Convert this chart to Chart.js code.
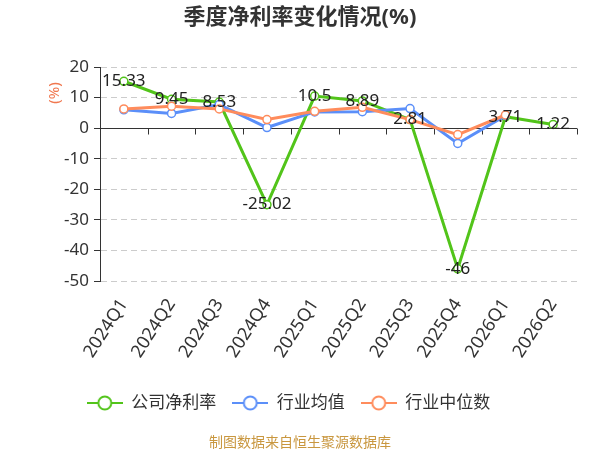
<!DOCTYPE html>
<html>
<head>
<meta charset="utf-8">
<script src="https://cdn.jsdelivr.net/npm/chart.js@4"></script>
<style>
	html, body { margin: 0; padding: 0; background: #fff; }
	#wrap { width: 600px; height: 450px; }
</style>
</head>
<body>
<div id="wrap"><canvas id="chart"></canvas></div>
<script>
// Quarterly net margin data (%)
const quarters = ["2024Q1", "2024Q2", "2024Q3", "2024Q4", "2025Q1", "2025Q2", "2025Q3", "2025Q4", "2026Q1", "2026Q2"];
const companyMargin = [15.33, 9.45, 8.53, -25.02, 10.5, 8.89, 2.81, -46, 3.71, 1.22];
const industryAvg = [6.0, 4.8, 7.7, 0.2, 5.3, 5.4, 6.4, -5.0, 4.1, null];
const industryMedian = [6.3, 7.2, 6.3, 2.8, 5.5, 6.8, 2.8, -2.1, 4.3, null];
const yTicks = { min: -50, max: 20, step: 10 };

const GREEN = "#52c41a";
const BLUE = "#5b8ff9";
const ORANGE = "#ff8c5c";
const FONT = '"Noto Sans", "Noto Sans CJK SC", sans-serif';

// legend symbol: short line with a hollow circle
function legendIcon(color) {
	const c = document.createElement("canvas");
	c.width = 36;
	c.height = 18;
	const g = c.getContext("2d");
	g.strokeStyle = color;
	g.lineWidth = 2;
	g.beginPath();
	g.moveTo(0, 9);
	g.lineTo(36, 9);
	g.stroke();
	g.beginPath();
	g.arc(18, 9, 6.5, 0, Math.PI * 2);
	g.fillStyle = "#fff";
	g.fill();
	g.stroke();
	return c;
}

// value labels on the company series
const valueLabels = {
	id: "valueLabels",
	afterDatasetsDraw(chart) {
		const ctx = chart.ctx;
		const meta = chart.getDatasetMeta(0);
		ctx.save();
		ctx.font = "17px " + FONT;
		ctx.fillStyle = "#222";
		ctx.textAlign = "center";
		ctx.textBaseline = "middle";
		meta.data.forEach((pt, i) => {
			const v = companyMargin[i];
			if (v === null) return;
			ctx.fillText(String(v), pt.x, pt.y);
		});
		ctx.restore();
	},
};

// zero axis line with category ticks, title, unit label and source note
const axisExtras = {
	id: "axisExtras",
	beforeDatasetsDraw(chart) {
		const { ctx, chartArea, scales } = chart;
		const y0 = Math.round(scales.y.getPixelForValue(0)) + 0.5;
		const step = scales.x.getPixelForValue(1) - scales.x.getPixelForValue(0);
		ctx.save();
		ctx.strokeStyle = "#333";
		ctx.lineWidth = 1;
		ctx.beginPath();
		ctx.moveTo(chartArea.left, y0);
		ctx.lineTo(chartArea.right, y0);
		for (let i = 0; i <= quarters.length; i++) {
			const x = Math.round(scales.x.getPixelForValue(i) - step / 2) + 0.5;
			ctx.moveTo(x, y0);
			ctx.lineTo(x, y0 + 6);
		}
		ctx.stroke();
		ctx.restore();
	},
	afterDraw(chart) {
		const ctx = chart.ctx;
		const cx = chart.width / 2;
		ctx.save();
		ctx.textAlign = "center";
		ctx.textBaseline = "middle";

		ctx.font = "bold 22px " + FONT;
		ctx.fillStyle = "#333";
		ctx.fillText("季度净利率变化情况(%)", cx, 18);

		ctx.font = "14px " + FONT;
		ctx.fillStyle = "#c9973f";
		ctx.fillText("制图数据来自恒生聚源数据库", cx, 443);

		ctx.translate(55, 93);
		ctx.rotate(-Math.PI / 2);
		ctx.font = "15px " + FONT;
		ctx.fillStyle = "#f07850";
		ctx.fillText("(%)", 0, 0);
		ctx.restore();
	},
};

const lineStyle = (color) => ({
	borderColor: color,
	backgroundColor: color,
	borderWidth: 3,
	pointRadius: 4,
	pointHoverRadius: 4,
	pointBackgroundColor: "#fff",
	pointBorderColor: color,
	pointBorderWidth: 1.5,
	tension: 0,
	spanGaps: false,
});

new Chart(document.getElementById("chart"), {
	type: "line",
	data: {
		labels: quarters,
		datasets: [
			{ label: "公司净利率", data: companyMargin, order: 3, ...lineStyle(GREEN) },
			{ label: "行业均值", data: industryAvg, order: 2, ...lineStyle(BLUE) },
			{ label: "行业中位数", data: industryMedian, order: 1, ...lineStyle(ORANGE) },
		],
	},
	options: {
		responsive: true,
		maintainAspectRatio: false,
		animation: false,
		layout: { padding: { left: 0, right: 23, top: 67, bottom: 28.5 } },
		scales: {
			x: {
				offset: true,
				grid: { display: false },
				border: { display: false },
				ticks: {
					autoSkip: false,
					minRotation: 57,
					maxRotation: 57,
					padding: 6,
					color: "#333",
					font: { family: FONT, size: 18 },
				},
				afterFit(scale) {
					scale.height = 97.5;
				},
			},
			y: {
				min: yTicks.min,
				max: yTicks.max,
				grid: {
					color: "#ccc",
					tickColor: "#333",
					tickLength: 6,
				},
				border: { display: true, color: "#333", width: 1, dash: [6, 4] },
				ticks: {
					stepSize: yTicks.step,
					padding: 5,
					color: "#333",
					font: { family: FONT, size: 17 },
				},
				afterFit(scale) {
					scale.width = 100;
				},
			},
		},
		plugins: {
			title: { display: false },
			legend: {
				position: "bottom",
				labels: {
					usePointStyle: true,
					pointStyleWidth: 36,
					padding: 16,
					color: "#333",
					font: { family: FONT, size: 17 },
					sort: (a, b) => a.datasetIndex - b.datasetIndex,
					generateLabels(chart) {
						const items = Chart.defaults.plugins.legend.labels.generateLabels(chart);
						return items.map((it) => {
							const ds = chart.data.datasets[it.datasetIndex];
							it.pointStyle = legendIcon(ds.borderColor);
							return it;
						});
					},
				},
			},
			tooltip: { enabled: false },
		},
	},
	plugins: [valueLabels, axisExtras],
});
</script>
</body>
</html>
